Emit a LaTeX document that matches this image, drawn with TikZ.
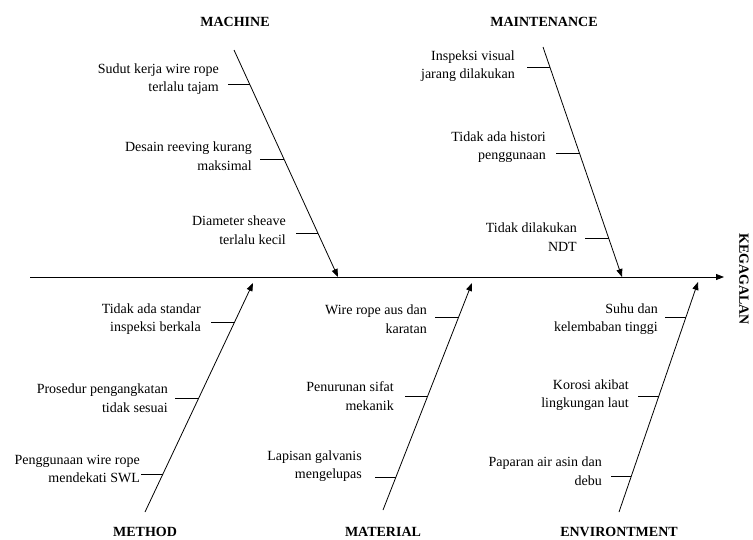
\documentclass[tikz,border=0pt]{standalone}
\usepackage{fontspec}
\setmainfont{Liberation Serif}
\usetikzlibrary{arrows.meta, positioning, calc}

\begin{document}
\begin{tikzpicture}[
  x=1pt, y=-1pt,
  cause/.style={anchor=east, align=right, inner sep=0pt,
                font=\fontsize{14}{18.5}\selectfont},
  cat/.style={inner sep=0pt, font=\fontsize{14}{17}\selectfont\bfseries},
  tick/.style={line width=0.7pt},
  arr/.style={-{Triangle[length=8pt, width=6pt]}, line width=0.8pt}
]
\useasboundingbox (0,0) rectangle (753,539);

% spine and effect
\coordinate (tail) at (30,277);
\coordinate (head) at (724,277);
\draw[arr] (tail) -- (head);
\node[cat, rotate=-90] (effect) at (744,279) {KEGAGALAN};

% category labels
\node[cat] (mc) at (235,22) {MACHINE};
\node[cat] (mt) at (544,22) {MAINTENANCE};
\node[cat] (me) at (145,532) {METHOD};
\node[cat] (ma) at (383,532) {MATERIAL};
\node[cat] (en) at (619,532) {ENVIRONTMENT};

% bones
\coordinate (mcA) at (234,50);  \coordinate (mcB) at (338,277);
\coordinate (mtA) at (543,47);  \coordinate (mtB) at (622,277);
\coordinate (meA) at (145,512); \coordinate (meB) at (253,283);
\coordinate (maA) at (383,510); \coordinate (maB) at (472,283);
\coordinate (enA) at (619,512); \coordinate (enB) at (698,282);

\draw[arr] (mcA) -- (mcB) coordinate[pos=0.150] (mc1) coordinate[pos=0.480] (mc2) coordinate[pos=0.806] (mc3);
\draw[arr] (mtA) -- (mtB) coordinate[pos=0.087] (mt1) coordinate[pos=0.461] (mt2) coordinate[pos=0.830] (mt3);
\draw[arr] (meA) -- (meB) coordinate[pos=0.830] (me1) coordinate[pos=0.498] (me2) coordinate[pos=0.166] (me3);
\draw[arr] (maA) -- (maB) coordinate[pos=0.850] (ma1) coordinate[pos=0.502] (ma2) coordinate[pos=0.145] (ma3);
\draw[arr] (enA) -- (enB) coordinate[pos=0.848] (en1) coordinate[pos=0.504] (en2) coordinate[pos=0.157] (en3);

% machine
\coordinate (mc1s) at (228,84);
\coordinate (mc2s) at (260,159);
\coordinate (mc3s) at (296,233);
\draw[tick] (mc1s) -- (mc1s -| mc1);
\draw[tick] (mc2s) -- (mc2s -| mc2);
\draw[tick] (mc3s) -- (mc3s -| mc3);
\node[cause] (mc1t) at (219,79) {Sudut kerja wire rope\\terlalu tajam};
\node[cause] (mc2t) at (252,156) {Desain reeving kurang\\maksimal};
\node[cause] (mc3t) at (286,230) {Diameter sheave\\terlalu kecil};

% maintenance
\coordinate (mt1s) at (527,67);
\coordinate (mt2s) at (556,153);
\coordinate (mt3s) at (585,238);
\draw[tick] (mt1s) -- (mt1s -| mt1);
\draw[tick] (mt2s) -- (mt2s -| mt2);
\draw[tick] (mt3s) -- (mt3s -| mt3);
\node[cause] (mt1t) at (515,66) {Inspeksi visual\\jarang dilakukan};
\node[cause] (mt2t) at (546,147) {Tidak ada histori\\penggunaan};
\node[cause] (mt3t) at (577,237) {Tidak dilakukan\\NDT};

% method
\coordinate (me1s) at (211,322);
\coordinate (me2s) at (175,398);
\coordinate (me3s) at (141,474);
\draw[tick] (me1s) -- (me1s -| me1);
\draw[tick] (me2s) -- (me2s -| me2);
\draw[tick] (me3s) -- (me3s -| me3);
\node[cause] (me1t) at (201,319) {Tidak ada standar\\inspeksi berkala};
\node[cause] (me2t) at (168,398) {Prosedur pengangkatan\\tidak sesuai};
\node[cause] (me3t) at (140,469) {Penggunaan wire rope\\mendekati SWL};

% material
\coordinate (ma1s) at (435,317);
\coordinate (ma2s) at (405,396);
\coordinate (ma3s) at (375,477);
\draw[tick] (ma1s) -- (ma1s -| ma1);
\draw[tick] (ma2s) -- (ma2s -| ma2);
\draw[tick] (ma3s) -- (ma3s -| ma3);
\node[cause] (ma1t) at (427,319) {Wire rope aus dan\\karatan};
\node[cause] (ma2t) at (394,396) {Penurunan sifat\\mekanik};
\node[cause] (ma3t) at (362,466) {Lapisan galvanis\\mengelupas};

% environment
\coordinate (en1s) at (665,317);
\coordinate (en2s) at (638,396);
\coordinate (en3s) at (611,476);
\draw[tick] (en1s) -- (en1s -| en1);
\draw[tick] (en2s) -- (en2s -| en2);
\draw[tick] (en3s) -- (en3s -| en3);
\node[cause] (en1t) at (658,319) {Suhu dan\\kelembaban tinggi};
\node[cause] (en2t) at (629,395) {Korosi akibat\\lingkungan laut};
\node[cause] (en3t) at (602,471) {Paparan air asin dan\\debu};
\end{tikzpicture}
\end{document}
